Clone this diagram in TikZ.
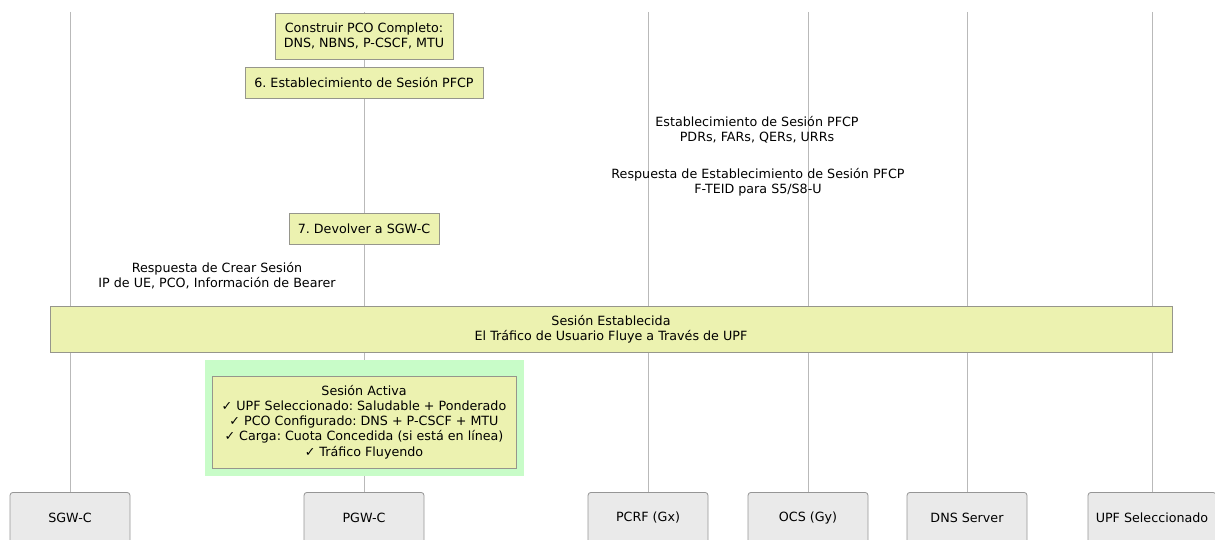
\documentclass[tikz,border=0pt]{standalone}
\usepackage{fontspec}
\setmainfont{DejaVu Sans}
\frenchspacing
\definecolor{notefill}{RGB}{236,242,176}
\definecolor{noteline}{RGB}{150,150,140}
\definecolor{lifeline}{RGB}{185,185,185}
\definecolor{actfill}{RGB}{234,234,234}
\definecolor{actline}{RGB}{150,150,150}
\definecolor{activebg}{RGB}{200,252,200}
\begin{document}
\frenchspacing
\begin{tikzpicture}[x=1pt,y=-1pt,
  every node/.style={font=\fontsize{12.7}{15.2}\selectfont\frenchspacing, text=black, inner sep=0pt, align=center},
  actor/.style={draw=actline, fill=actfill, rounded corners=3pt, line width=0.8pt, minimum height=60pt, anchor=north, text depth=0pt},
  notebox/.style={draw=noteline, fill=notefill, line width=0.8pt},
  life/.style={draw=lifeline, line width=1pt},
  msg/.style={}]
\useasboundingbox (0,0) rectangle (1215,540);
\clip (0,0) rectangle (1215,540);
% participants
\node[actor, minimum width=120pt] (sgw) at (70,492) {};
\node[actor, minimum width=120pt] (pgw) at (364,492) {};
\node[actor, minimum width=120pt] (pcrf) at (648,492) {};
\node[actor, minimum width=120pt] (ocs) at (808,492) {};
\node[actor, minimum width=120pt] (dns) at (967,492) {};
\node[actor, minimum width=128pt] (upf) at (1152,492) {};
\node (sgwt) at (70,518) {SGW-C};
\node (pgwt) at (364,518) {PGW-C};
\node (pcrft) at (648,518) {PCRF (Gx)};
\node (ocst) at (808,518) {OCS (Gy)};
\node (dnst) at (967,518) {DNS Server};
\node (upft) at (1152,518) {UPF Seleccionado};
% lifelines
\coordinate (sgwtop) at (70,12);
\coordinate (pgwtop) at (364,12);
\coordinate (pcrftop) at (648,12);
\coordinate (ocstop) at (808,12);
\coordinate (dnstop) at (967,12);
\coordinate (upftop) at (1152,12);
\draw[life] (sgwtop) -- (sgw.north);
\draw[life] (pgwtop) -- (pgw.north);
\draw[life] (pcrftop) -- (pcrf.north);
\draw[life] (ocstop) -- (ocs.north);
\draw[life] (dnstop) -- (dns.north);
\draw[life] (upftop) -- (upf.north);
% notes
\node[notebox, minimum width=178pt, minimum height=46pt] (pco) at (364,36) {Construir PCO Completo:\\DNS, NBNS, P-CSCF, MTU};
\node[notebox, minimum width=238pt, minimum height=31pt] (step6) at (364,82.5) {6. Establecimiento de Sesión PFCP};
\node[msg] (m1) at (757,130) {Establecimiento de Sesión PFCP\\PDRs, FARs, QERs, URRs};
\node[msg] (m2) at (758,182.5) {Respuesta de Establecimiento de Sesión PFCP\\F-TEID para S5/S8-U};
\node[notebox, minimum width=150pt, minimum height=31pt] (step7) at (364,228.5) {7. Devolver a SGW-C};
\node[msg] (m3) at (217,275.5) {Respuesta de Crear Sesión\\IP de UE, PCO, Información de Bearer};
\node[notebox, minimum width=1122pt, minimum height=46pt] (est) at (611,329) {Sesión Establecida\\El Tráfico de Usuario Fluye a Través de UPF};
\node[fill=activebg, minimum width=319pt, minimum height=116pt] (act) at (364.5,418) {};
\node[notebox, minimum width=304pt, minimum height=92pt] (actnote) at (364,422) {Sesión Activa\\✓ UPF Seleccionado: Saludable + Ponderado\\✓ PCO Configurado: DNS + P-CSCF + MTU\\✓ Carga: Cuota Concedida (si está en línea)\\✓ Tráfico Fluyendo};
\end{tikzpicture}
\end{document}
